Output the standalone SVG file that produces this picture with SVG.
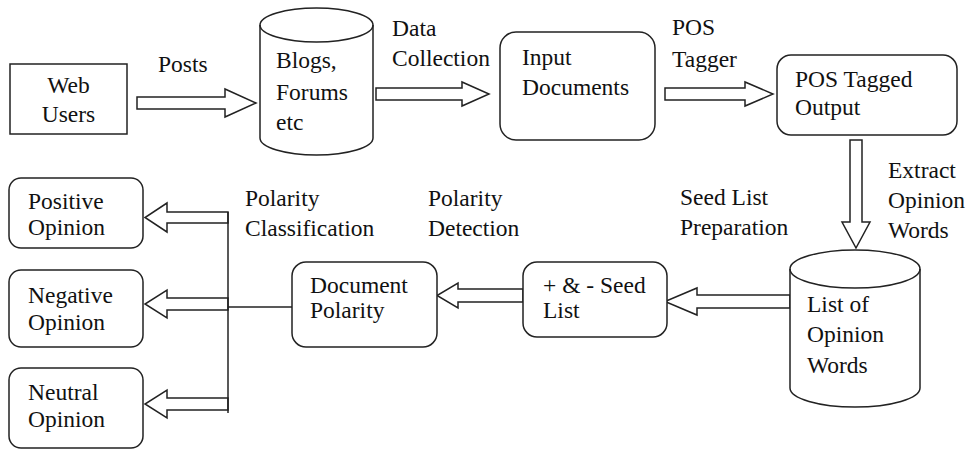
<svg xmlns="http://www.w3.org/2000/svg" width="971" height="451" viewBox="0 0 971 451" font-family="Liberation Serif, DejaVu Serif, serif" font-size="23.5">
  <style>
    .box { fill: #ffffff; stroke: #222222; stroke-width: 1.5; }
    .arrow { fill: #ffffff; stroke: #222222; stroke-width: 1.5; stroke-linejoin: miter; }
    .line { fill: none; stroke: #222222; stroke-width: 1.5; }
    .t { font-family: "Liberation Serif", "DejaVu Serif", serif; font-size: 23.5px; fill: #111111; }
  </style>
  <rect width="971" height="451" fill="#ffffff"/>

  <!-- Connectors: hollow block arrows and classification branch lines -->
  <g id="connectors">
    <polygon class="arrow" points="137,97 225,97 225,89 256,103 225,117 225,109 137,109"/>
    <polygon class="arrow" points="376,88 462,88 462,82 489,94 462,106 462,100 376,100"/>
    <polygon class="arrow" points="665,88 745,88 745,82 773,94 745,106 745,100 665,100"/>
    <polygon class="arrow" points="850,140 862,140 862,222 870,222 856,248 842,222 850,222"/>
    <polygon class="arrow" points="790,295 697,295 697,288 665,301.5 697,315 697,308 790,308"/>
    <polygon class="arrow" points="523,289 458,289 458,283 437,295.5 458,308 458,302 523,302"/>
    <polygon class="arrow" points="228,212 167,212 167,203 145,217.5 167,232 167,223 228,223"/>
    <polygon class="arrow" points="228,298 167,298 167,290 145,304 167,318 167,310 228,310"/>
    <polygon class="arrow" points="228,398 167,398 167,390 145,404 167,418 167,410 228,410"/>
    <line class="line" x1="228" y1="212" x2="228" y2="413"/>
    <line class="line" x1="228" y1="307" x2="292" y2="307"/>
  </g>

  <!-- Connector labels -->
  <g id="labels" class="t">
    <text x="158" y="72">Posts</text>
    <text x="392" y="36">Data</text>
    <text x="392" y="66">Collection</text>
    <text x="672" y="35">POS</text>
    <text x="672" y="67">Tagger</text>
    <text x="888" y="178">Extract</text>
    <text x="888" y="208">Opinion</text>
    <text x="888" y="238">Words</text>
    <text x="680" y="205">Seed List</text>
    <text x="680" y="235">Preparation</text>
    <text x="428" y="206">Polarity</text>
    <text x="428" y="236">Detection</text>
    <text x="245" y="206">Polarity</text>
    <text x="245" y="236">Classification</text>
  </g>

  <g id="web-users" class="t">
    <rect class="box" x="10" y="64" width="117" height="70"/>
    <text x="68.5" y="93" text-anchor="middle">Web</text>
    <text x="68.5" y="122" text-anchor="middle">Users</text>
  </g>

  <g id="blogs-forums" class="t">
    <path class="box" d="M260,25 A56.5,17 0 0 1 373,25 L373,138 A56.5,17 0 0 1 260,138 Z"/>
    <path class="line" d="M260,25 A56.5,17 0 0 0 373,25"/>
    <text x="276" y="68">Blogs,</text>
    <text x="276" y="100">Forums</text>
    <text x="276" y="130">etc</text>
  </g>

  <g id="input-documents" class="t">
    <rect class="box" x="500" y="32" width="155" height="108" rx="16"/>
    <text x="522" y="65">Input</text>
    <text x="522" y="95">Documents</text>
  </g>

  <g id="pos-tagged-output" class="t">
    <rect class="box" x="777" y="55" width="180" height="80" rx="14"/>
    <text x="795" y="87">POS Tagged</text>
    <text x="795" y="115">Output</text>
  </g>

  <g id="opinion-words" class="t">
    <path class="box" d="M790,269 A65,19 0 0 1 920,269 L920,388 A65,19 0 0 1 790,388 Z"/>
    <path class="line" d="M790,269 A65,19 0 0 0 920,269"/>
    <text x="807" y="312">List of</text>
    <text x="807" y="342">Opinion</text>
    <text x="807" y="373">Words</text>
  </g>

  <g id="seed-list" class="t">
    <rect class="box" x="523" y="262" width="144" height="75" rx="14"/>
    <text x="543" y="293">+ &amp; - Seed</text>
    <text x="543" y="318">List</text>
  </g>

  <g id="document-polarity" class="t">
    <rect class="box" x="292" y="262" width="145" height="85" rx="14"/>
    <text x="310" y="293">Document</text>
    <text x="310" y="318">Polarity</text>
  </g>

  <g id="positive-opinion" class="t">
    <rect class="box" x="9" y="178" width="134" height="70" rx="12"/>
    <text x="28" y="209">Positive</text>
    <text x="28" y="235">Opinion</text>
  </g>

  <g id="negative-opinion" class="t">
    <rect class="box" x="9" y="270" width="134" height="77" rx="12"/>
    <text x="28" y="303">Negative</text>
    <text x="28" y="330">Opinion</text>
  </g>

  <g id="neutral-opinion" class="t">
    <rect class="box" x="9" y="368" width="134" height="80" rx="12"/>
    <text x="28" y="400">Neutral</text>
    <text x="28" y="427">Opinion</text>
  </g>
</svg>
